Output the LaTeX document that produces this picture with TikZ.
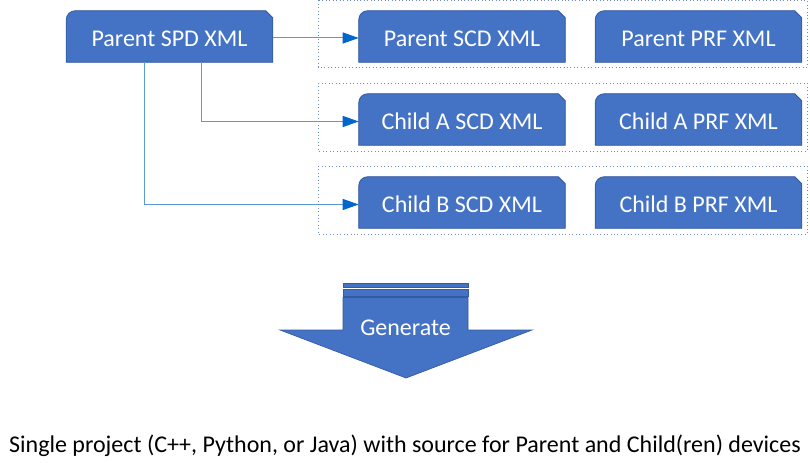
\documentclass[tikz,border=0pt]{standalone}
\usepackage{fontspec}
\setmainfont{Carlito}
\usetikzlibrary{arrows.meta,calc}
\definecolor{docblue}{RGB}{68,114,196}
\definecolor{docedge}{RGB}{52,90,160}
\definecolor{linkblue}{RGB}{91,155,213}
\definecolor{tipblue}{RGB}{0,102,204}
\definecolor{grpblue}{RGB}{110,140,190}
\tikzset{
  doc/.style={minimum width=154.5pt, minimum height=38.25pt, inner sep=0pt},
  doctext/.style={text=white, inner sep=0pt, anchor=base,
    font=\fontsize{18pt}{21pt}\selectfont},
  docshape/.style={fill=docblue, draw=docedge, line width=0.6pt},
  grp/.style={draw=grpblue, dotted, line width=0.6pt},
  conn/.style={draw=linkblue, line width=0.75pt,
    -{Triangle[length=12pt,width=8.25pt,color=tipblue,fill=tipblue]}},
  big/.style={fill=docblue, draw=docedge, line width=0.5pt},
  lbl/.style={font=\fontsize{18pt}{21pt}\selectfont, inner sep=0pt}
}
\newcommand{\docshape}[1]{%
  \path[docshape] (#1.south west) -- ($(#1.north west)+(0,9)$)
    arc[start angle=180, end angle=90, radius=6.75pt]
    -- ($(#1.north east)+(-7,0)$) -- ($(#1.north east)+(0,7)$)
    -- (#1.south east) -- cycle;}
\newcommand{\doctext}[3]{\node[doctext] (#2) at ($(#1.center)+(0,10.5)$) {#3};}
\begin{document}
\begin{tikzpicture}[x=0.75pt,y=-0.75pt]
\useasboundingbox (0,0) rectangle (810,463);
% group containers
\draw[grp] (318,0.5) rectangle (807,67);
\draw[grp] (318,83) rectangle (807,151);
\draw[grp] (318,166) rectangle (807,234);
% document nodes
\node[doc] (spd)  at (169.5,36.5) {};
\node[doc] (scd1) at (462,36.5) {};
\node[doc] (prf1) at (698.5,36.5) {};
\node[doc] (scda) at (462,119.5) {};
\node[doc] (prfa) at (698.5,119.5) {};
\node[doc] (scdb) at (462,202.5) {};
\node[doc] (prfb) at (698.5,202.5) {};
\docshape{spd}\docshape{scd1}\docshape{prf1}
\docshape{scda}\docshape{prfa}\docshape{scdb}\docshape{prfb}
\doctext{spd}{tspd}{Parent SPD XML}
\doctext{scd1}{tscd1}{Parent SCD XML}
\doctext{prf1}{tprf1}{Parent PRF XML}
\doctext{scda}{tscda}{Child A SCD XML}
\doctext{prfa}{tprfa}{Child A PRF XML}
\doctext{scdb}{tscdb}{Child B SCD XML}
\doctext{prfb}{tprfb}{Child B PRF XML}
% connectors
\coordinate (sa) at ($(spd.south west)+(135,0)$);
\coordinate (sb) at ($(spd.south west)+(78,0)$);
\draw[conn] ($(spd.east)+(0,1.5)$) -- ($(scd1.west)+(0,1.5)$);
\draw[conn] (sa) |- ($(scda.west)+(0,2)$);
\draw[conn] (sb) |- ($(scdb.west)+(0,2)$);
% generate arrow
\path[big] (343,283) rectangle (468,287);
\path[big] (343,289) rectangle (468,296);
\path[big] (343,297.5) -- (468,297.5) -- (468,330) -- (532,330) -- (406,378)
  -- (280,330) -- (343,330) -- cycle;
\node[lbl, text=white, anchor=base] (gen) at (405.5,335) {Generate};
% caption
\node[lbl, anchor=base] (cap) at (405,452)
  {Single project (C++, Python, or Java) with source for Parent and Child(ren) devices};
\end{tikzpicture}
\end{document}
